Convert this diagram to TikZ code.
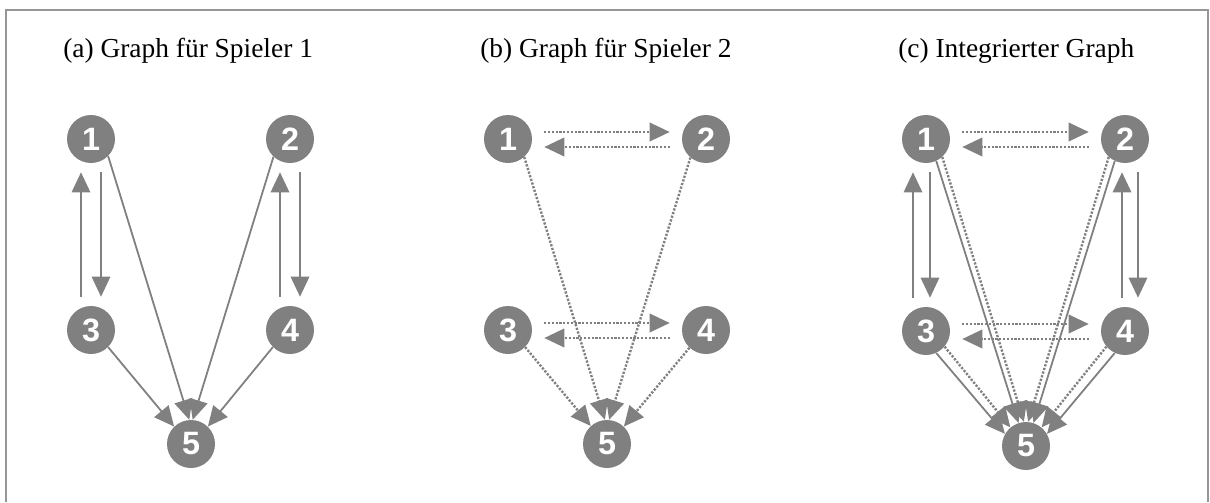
\documentclass[tikz,border=0pt]{standalone}
\usepackage{fontspec}
\setmainfont{Liberation Serif}
\newfontfamily\digitfont{Liberation Sans}
\usetikzlibrary{arrows.meta}
\definecolor{nodegray}{RGB}{128,128,128}
\definecolor{framegray}{RGB}{150,150,150}
\tikzset{gap/.style={shorten <=#1, shorten >=#1}}

\begin{document}
\begin{tikzpicture}[x=0.25mm, y=-0.25mm, >={Triangle[length=5mm,width=4.6mm]}]
\tikzstyle{pl}=[circle, fill=nodegray, inner sep=0pt, minimum size=12mm, text=white, font=\digitfont\bfseries\fontsize{23}{23}\selectfont]
\tikzstyle{ttl}=[anchor=base west, inner sep=0pt, font=\fontsize{19.5}{22}\selectfont]
\tikzstyle{sp1}=[draw=nodegray, line width=0.45mm]
\tikzstyle{sp2}=[draw=nodegray, line width=0.6mm, dash pattern=on 0.55mm off 0.4mm]

\useasboundingbox (0,0) rectangle (1210,502);
\draw[framegray, line width=0.5mm] (6,502) -- (6,10) -- (1208,10) -- (1208,502);

\node[ttl] (ta) at (63,57) {(a) Graph für Spieler 1};
\node[ttl] (tb) at (480,57) {(b) Graph für Spieler 2};
\node[ttl] (tc) at (898,57) {(c) Integrierter Graph};

% player 1
\node[pl] (a1) at (91,139) {1};
\node[pl] (a2) at (290,139) {2};
\node[pl] (a3) at (91,330) {3};
\node[pl] (a4) at (290,330) {4};
\node[pl] (a5) at (191,444) {5};

\draw[->, sp1, gap=2.25mm] ([xshift=-2.5mm]a3.north) -- ([xshift=-2.5mm]a1.south);
\draw[->, sp1, gap=2.25mm] ([xshift=2.5mm]a1.south) -- ([xshift=2.5mm]a3.north);
\draw[->, sp1, gap=2.25mm] ([xshift=-2.5mm]a4.north) -- ([xshift=-2.5mm]a2.south);
\draw[->, sp1, gap=2.25mm] ([xshift=2.5mm]a2.south) -- ([xshift=2.5mm]a4.north);
\draw[->, sp1] (a1.-45) -- (a5.94);
\draw[->, sp1] (a2.-133) -- (a5.86);
\draw[->, sp1] (a3.-45) -- (a5.134);
\draw[->, sp1] (a4.-135) -- (a5.46);

% player 2
\node[pl] (b1) at (508,139) {1};
\node[pl] (b2) at (706,139) {2};
\node[pl] (b3) at (508,330) {3};
\node[pl] (b4) at (706,330) {4};
\node[pl] (b5) at (607,444) {5};

\draw[->, sp2, gap=3mm] ([yshift=1.75mm]b1.east) -- ([yshift=1.75mm]b2.west);
\draw[->, sp2, gap=3mm] ([yshift=-2mm]b2.west) -- ([yshift=-2mm]b1.east);
\draw[->, sp2, gap=3mm] ([yshift=1.75mm]b3.east) -- ([yshift=1.75mm]b4.west);
\draw[->, sp2, gap=3mm] ([yshift=-2mm]b4.west) -- ([yshift=-2mm]b3.east);
\draw[->, sp2] (b1.-48) -- (b5.95);
\draw[->, sp2] (b2.-130) -- (b5.85);
\draw[->, sp2] (b3.-45) -- (b5.132);
\draw[->, sp2] (b4.-133) -- (b5.46);

% both players
\node[pl] (c1) at (926,139) {1};
\node[pl] (c2) at (1125,139) {2};
\node[pl] (c3) at (926,331) {3};
\node[pl] (c4) at (1125,331) {4};
\node[pl] (c5) at (1026,446) {5};

\draw[->, sp1, gap=2.25mm] ([xshift=-3.25mm]c3.north) -- ([xshift=-3.25mm]c1.south);
\draw[->, sp1, gap=2.25mm] ([xshift=1mm]c1.south) -- ([xshift=1mm]c3.north);
\draw[->, sp1, gap=2.25mm] ([xshift=-0.75mm]c4.north) -- ([xshift=-0.75mm]c2.south);
\draw[->, sp1, gap=2.25mm] ([xshift=3.25mm]c2.south) -- ([xshift=3.25mm]c4.north);
\draw[->, sp2, gap=3mm] ([yshift=1.75mm]c1.east) -- ([yshift=1.75mm]c2.west);
\draw[->, sp2, gap=3mm] ([yshift=-2mm]c2.west) -- ([yshift=-2mm]c1.east);
\draw[->, sp2, gap=3mm] ([yshift=1.75mm]c3.east) -- ([yshift=1.75mm]c4.west);
\draw[->, sp2, gap=3mm] ([yshift=-2mm]c4.west) -- ([yshift=-2mm]c3.east);
\draw[->, sp1] (c1.-65) -- (c5.108);
\draw[->, sp2] (c1.-48) -- (c5.95);
\draw[->, sp1] (c2.-115) -- (c5.72);
\draw[->, sp2] (c2.-132) -- (c5.85);
\draw[->, sp1] (c3.-65) -- (c5.150);
\draw[->, sp2] (c3.-40) -- (c5.130);
\draw[->, sp1] (c4.-115) -- (c5.30);
\draw[->, sp2] (c4.-140) -- (c5.50);
\end{tikzpicture}
\end{document}
